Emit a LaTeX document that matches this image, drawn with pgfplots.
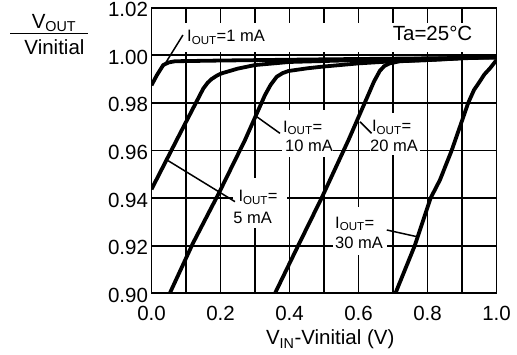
\documentclass[border=0pt]{standalone}
\usepackage{fontspec}
\setmainfont{Liberation Sans}
\usepackage{pgfplots}
\pgfplotsset{compat=1.18}
\newcommand{\bigf}{\fontsize{20.5}{24}\selectfont}
\newcommand{\ann}{\fontsize{16.5}{19}\selectfont}
\begin{document}
\begin{tikzpicture}
\useasboundingbox (0pt,0pt) rectangle (517pt,355pt);
\begin{axis}[
  at={(151.5pt,61.7pt)}, anchor=south west,
  scale only axis, width=345pt, height=285.6pt,
  xmin=0, xmax=1, ymin=0.90, ymax=1.02,
  xtick={0,0.2,0.4,0.6,0.8,1.0},
  minor xtick={0.1,0.3,0.5,0.7,0.9},
  ytick={0.90,0.92,0.94,0.96,0.98,1.00,1.02},
  grid=both,
  major grid style={black, line width=1.8pt},
  minor grid style={black, line width=1.8pt},
  axis line style={black, line width=1.8pt},
  tick style={draw=none},
  /pgf/number format/assume math mode=true,
  ticklabel style={font=\bigf},
  xticklabel style={yshift=-9.5pt, /pgf/number format/.cd, fixed, fixed zerofill, precision=1},
  yticklabel style={yshift=-2pt, /pgf/number format/.cd, fixed, fixed zerofill, precision=2},
  xlabel={V\textsubscript{IN}-Vinitial (V)},
  x label style={at={(axis description cs:0.518,0)}, anchor=base, yshift=-51.7pt, font=\bigf},
  curve/.style={black, line width=3.8pt, line join=round, mark=none},
]
% white label areas
\fill[white] (axis cs:0.095,1.0013) rectangle (axis cs:0.996,1.0135);
\fill[white] (axis cs:0.378,0.9573) rectangle (axis cs:0.526,0.9770);
\fill[white] (axis cs:0.633,0.9581) rectangle (axis cs:0.778,0.9758);
\fill[white] (axis cs:0.235,0.9273) rectangle (axis cs:0.393,0.9484);
\fill[white] (axis cs:0.526,0.9161) rectangle (axis cs:0.683,0.9363);
% 1 mA
\addplot[curve] coordinates {(0,0.9874) (0.015,0.9915) (0.034,0.9959) (0.05,0.9970) (0.068,0.9975) (0.2,0.9978) (0.5,0.9983) (1.0,0.9990)};
% 5 mA
\addplot[curve] coordinates {(0,0.9437) (0.073,0.9644) (0.15,0.986) (0.163,0.9885) (0.174,0.990) (0.19,0.9915) (0.203,0.9924) (0.25,0.9944) (0.30,0.9959) (0.4,0.9972) (0.6,0.998) (1.0,0.9992)};
% 10 mA
\addplot[curve] coordinates {(0.053,0.90) (0.12,0.921) (0.195,0.942) (0.271,0.9644) (0.329,0.9833) (0.345,0.9875) (0.363,0.991) (0.38,0.9925) (0.397,0.9934) (0.45,0.9945) (0.493,0.9952) (0.60,0.9966) (0.7,0.9975) (0.8,0.998) (1.0,0.9994)};
% 20 mA
\addplot[curve] coordinates {(0.358,0.90) (0.425,0.92) (0.493,0.94) (0.571,0.9644) (0.628,0.9833) (0.645,0.989) (0.662,0.9935) (0.675,0.9955) (0.69,0.9966) (0.72,0.9975) (0.8,0.998) (1.0,0.9996)};
% 30 mA
\addplot[curve] coordinates {(0.707,0.90) (0.763,0.92) (0.809,0.94) (0.836,0.9476) (0.870,0.96) (0.918,0.98) (0.935,0.9855) (0.947,0.988) (0.965,0.992) (0.981,0.9945) (1.0,0.998)};
% pointers
\draw[line width=1.5pt] (axis cs:0.0333,0.9950) -- (axis cs:0.091,1.0085);
\draw[line width=1.5pt] (axis cs:0.0484,0.9557) -- (axis cs:0.242,0.9385);
\draw[line width=1.5pt] (axis cs:0.305,0.9742) -- (axis cs:0.3725,0.9672);
\draw[line width=1.5pt] (axis cs:0.604,0.9721) -- (axis cs:0.638,0.9672);
\draw[line width=1.5pt] (axis cs:0.682,0.9266) -- (axis cs:0.769,0.9238);
% labels
\node[anchor=base west, inner sep=0pt, font=\ann] at (axis cs:0.103,1.0056) {I\textsubscript{OUT}=1 mA};
\node[anchor=base west, inner sep=0pt, font=\ann] at (axis cs:0.381,0.9677) {I\textsubscript{OUT}=};
\node[anchor=base west, inner sep=0pt, font=\ann] at (axis cs:0.387,0.9594) {10 mA};
\node[anchor=base west, inner sep=0pt, font=\ann] at (axis cs:0.639,0.9679) {I\textsubscript{OUT}=};
\node[anchor=base west, inner sep=0pt, font=\ann] at (axis cs:0.633,0.9595) {20 mA};
\node[anchor=base west, inner sep=0pt, font=\ann] at (axis cs:0.2516,0.9385) {I\textsubscript{OUT}=};
\node[anchor=base west, inner sep=0pt, font=\ann] at (axis cs:0.237,0.9294) {5 mA};
\node[anchor=base west, inner sep=0pt, font=\ann] at (axis cs:0.532,0.9273) {I\textsubscript{OUT}=};
\node[anchor=base west, inner sep=0pt, font=\ann] at (axis cs:0.532,0.9188) {30 mA};
\node[anchor=base west, inner sep=0pt, font=\bigf] at (axis cs:0.699,1.0064) {Ta=25\textdegree C};
\end{axis}
% y label as fraction
\node[anchor=base, inner sep=0pt, font=\bigf] at (54pt,326.7pt) {V\textsubscript{OUT}};
\draw[line width=1.3pt] (10pt,321.7pt) -- (88pt,321.7pt);
\node[anchor=base, inner sep=0pt, font=\bigf] at (54.5pt,300pt) {Vinitial};
\end{tikzpicture}
\end{document}
